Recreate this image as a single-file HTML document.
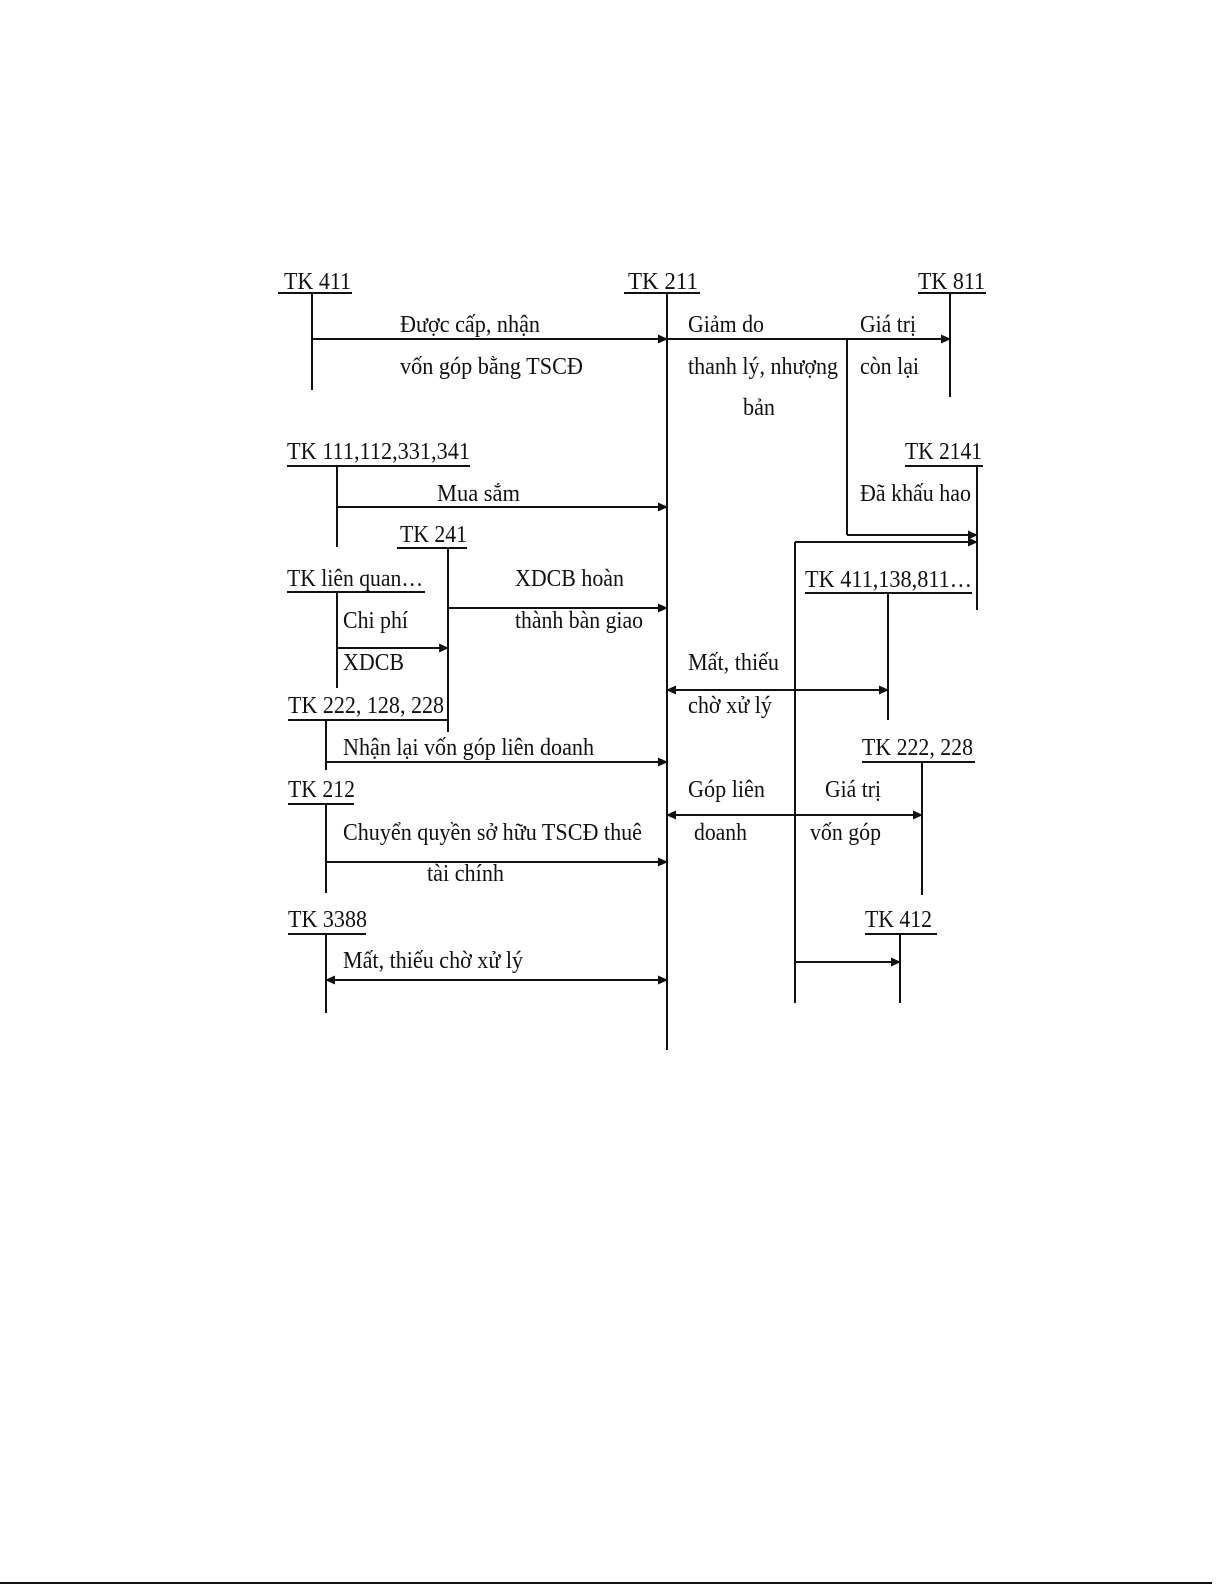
<!DOCTYPE html>
<html><head><meta charset="utf-8"><style>
html,body{margin:0;padding:0;background:#fff;}
svg{display:block;}
text{font-family:"Liberation Serif","DejaVu Serif",serif;font-size:24px;fill:#111;}
</style></head><body>
<svg width="1225" height="1585" viewBox="0 0 1225 1585" xmlns="http://www.w3.org/2000/svg">
<defs>
<marker id="a" markerWidth="10" markerHeight="10" refX="9" refY="5" orient="auto" markerUnits="userSpaceOnUse">
<path d="M0,0.5 L10,5 L0,9.5 Z" fill="#111"/></marker>
<marker id="b" markerWidth="10" markerHeight="10" refX="1" refY="5" orient="auto" markerUnits="userSpaceOnUse">
<path d="M10,0.5 L0,5 L10,9.5 Z" fill="#111"/></marker>
</defs>
<g stroke="#111" stroke-width="2" fill="none">
<line x1="278" y1="293" x2="352" y2="293"/>
<line x1="624" y1="293" x2="700" y2="293"/>
<line x1="918" y1="293" x2="986" y2="293"/>
<line x1="287" y1="466" x2="470" y2="466"/>
<line x1="905" y1="466" x2="983" y2="466"/>
<line x1="397" y1="548" x2="467" y2="548"/>
<line x1="287" y1="592" x2="425" y2="592"/>
<line x1="805" y1="593" x2="972" y2="593"/>
<line x1="288" y1="720" x2="448" y2="720"/>
<line x1="862" y1="762" x2="975" y2="762"/>
<line x1="288" y1="804" x2="354" y2="804"/>
<line x1="288" y1="934" x2="366" y2="934"/>
<line x1="865" y1="934" x2="937" y2="934"/>
<line x1="667" y1="293" x2="667" y2="1050"/>
<line x1="312" y1="293" x2="312" y2="390"/>
<line x1="950" y1="293" x2="950" y2="397"/>
<line x1="337" y1="466" x2="337" y2="547"/>
<line x1="977" y1="466" x2="977" y2="610"/>
<line x1="448" y1="548" x2="448" y2="732"/>
<line x1="337" y1="592" x2="337" y2="688"/>
<line x1="888" y1="593" x2="888" y2="720"/>
<line x1="326" y1="720" x2="326" y2="770"/>
<line x1="922" y1="762" x2="922" y2="895"/>
<line x1="326" y1="804" x2="326" y2="893"/>
<line x1="326" y1="934" x2="326" y2="1013"/>
<line x1="900" y1="934" x2="900" y2="1003"/>
<line x1="847" y1="339" x2="847" y2="535"/>
<line x1="795" y1="542" x2="795" y2="1003"/>
<line x1="312" y1="339" x2="667" y2="339" marker-end="url(#a)"/>
<line x1="667" y1="339" x2="950" y2="339" marker-end="url(#a)"/>
<line x1="847" y1="535" x2="977" y2="535" marker-end="url(#a)"/>
<line x1="795" y1="542" x2="977" y2="542" marker-end="url(#a)"/>
<line x1="337" y1="507" x2="667" y2="507" marker-end="url(#a)"/>
<line x1="448" y1="608" x2="667" y2="608" marker-end="url(#a)"/>
<line x1="337" y1="648" x2="448" y2="648" marker-end="url(#a)"/>
<line x1="667" y1="690" x2="888" y2="690" marker-start="url(#b)" marker-end="url(#a)"/>
<line x1="326" y1="762" x2="667" y2="762" marker-end="url(#a)"/>
<line x1="667" y1="815" x2="922" y2="815" marker-start="url(#b)" marker-end="url(#a)"/>
<line x1="326" y1="862" x2="667" y2="862" marker-end="url(#a)"/>
<line x1="326" y1="980" x2="667" y2="980" marker-start="url(#b)" marker-end="url(#a)"/>
<line x1="795" y1="962" x2="900" y2="962" marker-end="url(#a)"/>
<line x1="0" y1="1583" x2="1212" y2="1583"/>
</g>
<g>
<text x="284" y="289" textLength="67" lengthAdjust="spacingAndGlyphs">TK 411</text>
<text x="628" y="289" textLength="70" lengthAdjust="spacingAndGlyphs">TK 211</text>
<text x="918" y="289" textLength="67" lengthAdjust="spacingAndGlyphs">TK 811</text>
<text x="400" y="332" textLength="140" lengthAdjust="spacingAndGlyphs">Được cấp, nhận</text>
<text x="400" y="374" textLength="183" lengthAdjust="spacingAndGlyphs">vốn góp bằng TSCĐ</text>
<text x="688" y="332" textLength="76" lengthAdjust="spacingAndGlyphs">Giảm do</text>
<text x="688" y="374" textLength="150" lengthAdjust="spacingAndGlyphs">thanh lý, nhượng</text>
<text x="743" y="415" textLength="32" lengthAdjust="spacingAndGlyphs">bản</text>
<text x="860" y="332" textLength="56" lengthAdjust="spacingAndGlyphs">Giá trị</text>
<text x="860" y="374" textLength="59" lengthAdjust="spacingAndGlyphs">còn lại</text>
<text x="287" y="459" textLength="183" lengthAdjust="spacingAndGlyphs">TK 111,112,331,341</text>
<text x="905" y="459" textLength="77" lengthAdjust="spacingAndGlyphs">TK 2141</text>
<text x="437" y="501" textLength="83" lengthAdjust="spacingAndGlyphs">Mua sắm</text>
<text x="860" y="501" textLength="111" lengthAdjust="spacingAndGlyphs">Đã khấu hao</text>
<text x="400" y="542" textLength="67" lengthAdjust="spacingAndGlyphs">TK 241</text>
<text x="287" y="586" textLength="136" lengthAdjust="spacingAndGlyphs">TK liên quan…</text>
<text x="515" y="586" textLength="109" lengthAdjust="spacingAndGlyphs">XDCB hoàn</text>
<text x="805" y="587" textLength="167" lengthAdjust="spacingAndGlyphs">TK 411,138,811…</text>
<text x="343" y="628" textLength="65" lengthAdjust="spacingAndGlyphs">Chi phí</text>
<text x="515" y="628" textLength="128" lengthAdjust="spacingAndGlyphs">thành bàn giao</text>
<text x="343" y="670" textLength="61" lengthAdjust="spacingAndGlyphs">XDCB</text>
<text x="688" y="670" textLength="91" lengthAdjust="spacingAndGlyphs">Mất, thiếu</text>
<text x="288" y="713" textLength="156" lengthAdjust="spacingAndGlyphs">TK 222, 128, 228</text>
<text x="688" y="713" textLength="84" lengthAdjust="spacingAndGlyphs">chờ xử lý</text>
<text x="343" y="755" textLength="251" lengthAdjust="spacingAndGlyphs">Nhận lại vốn góp liên doanh</text>
<text x="862" y="755" textLength="111" lengthAdjust="spacingAndGlyphs">TK 222, 228</text>
<text x="288" y="797" textLength="67" lengthAdjust="spacingAndGlyphs">TK 212</text>
<text x="688" y="797" textLength="77" lengthAdjust="spacingAndGlyphs">Góp liên</text>
<text x="825" y="797" textLength="56" lengthAdjust="spacingAndGlyphs">Giá trị</text>
<text x="343" y="840" textLength="299" lengthAdjust="spacingAndGlyphs">Chuyển quyền sở hữu TSCĐ thuê</text>
<text x="694" y="840" textLength="53" lengthAdjust="spacingAndGlyphs">doanh</text>
<text x="810" y="840" textLength="71" lengthAdjust="spacingAndGlyphs">vốn góp</text>
<text x="427" y="881" textLength="77" lengthAdjust="spacingAndGlyphs">tài chính</text>
<text x="288" y="927" textLength="79" lengthAdjust="spacingAndGlyphs">TK 3388</text>
<text x="865" y="927" textLength="67" lengthAdjust="spacingAndGlyphs">TK 412</text>
<text x="343" y="968" textLength="180" lengthAdjust="spacingAndGlyphs">Mất, thiếu chờ xử lý</text>
</g>
</svg>
</body></html>
